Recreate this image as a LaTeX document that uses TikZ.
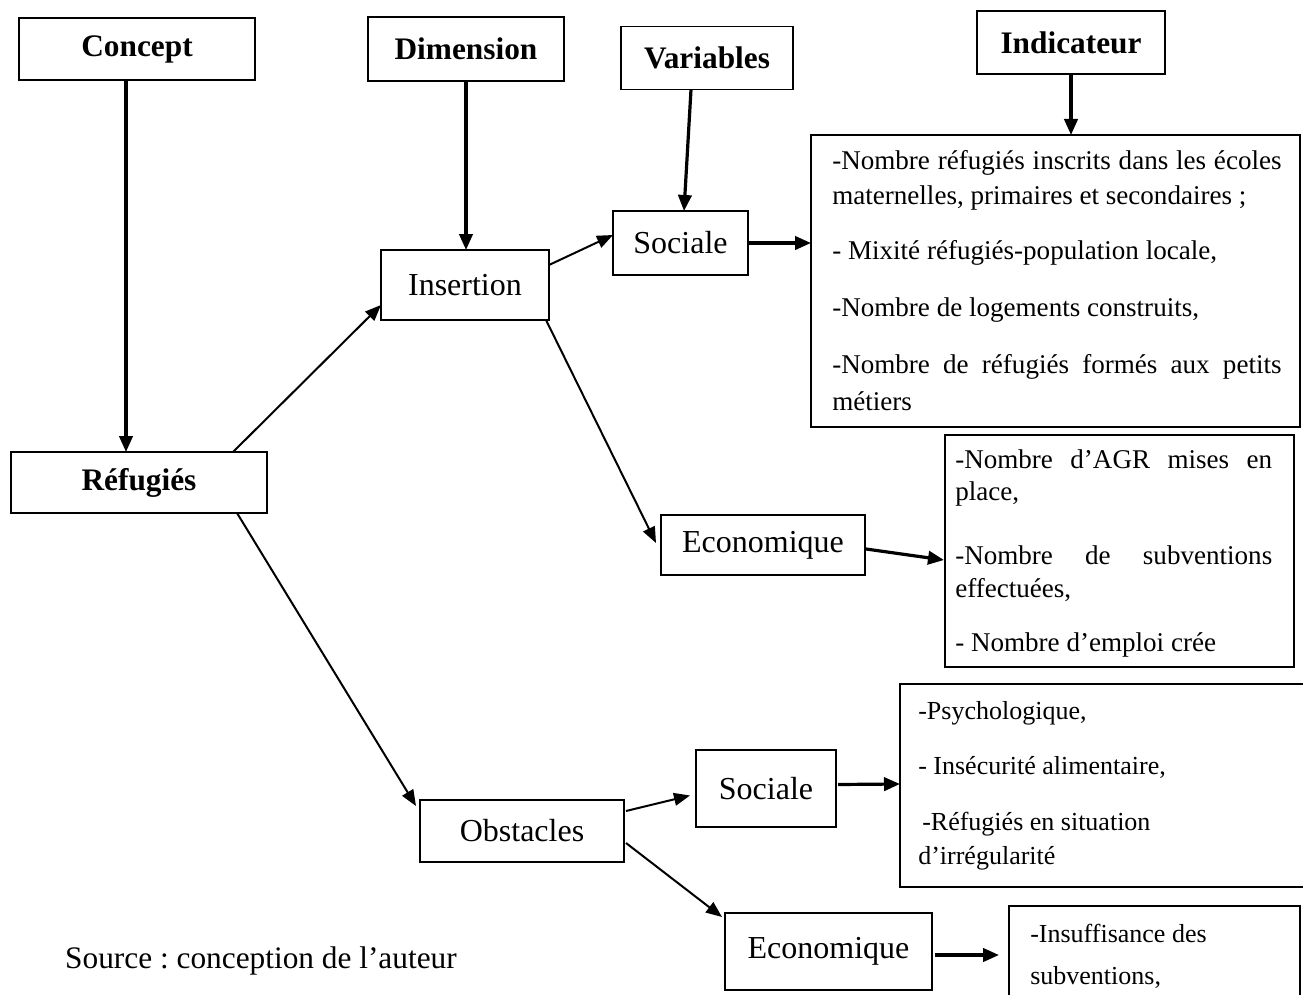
\documentclass[tikz,border=0pt]{standalone}
\usepackage{fontspec}
\setmainfont{Liberation Serif}
\usetikzlibrary{arrows.meta,calc}
\frenchspacing
\begin{document}
\begin{tikzpicture}[x=0.75pt,y=-0.75pt,
  bx/.style 2 args={draw, line width=0.8pt, minimum width=#1*0.75pt, minimum height=#2*0.75pt, inner sep=0pt, outer sep=0pt},
  hd/.style={font=\fontsize{23.5}{28}\selectfont\bfseries},
  lb/.style={font=\fontsize{24}{28}\selectfont},
  tx/.style={anchor=west, inner sep=0pt, font=\fontsize{20.3}{24}\selectfont},
  txb/.style={anchor=west, inner sep=0pt, font=\fontsize{19.5}{23}\selectfont},
  thk/.style={line width=2.4pt, -{Triangle[length=12pt,width=10pt]}},
  thn/.style={line width=1.5pt, -{Triangle[length=12pt,width=9.5pt]}},
]
\useasboundingbox (0,0) rectangle (1303,995);

% boxes
\node[bx={236}{62}, hd] (concept) at (137,49) {Concept};
\node[bx={196}{64}, hd] (dimension) at (466,49) {Dimension};
\node[bx={172}{63}, hd] (variables) at (707,58) {Variables};
\node[bx={188}{63}, hd] (indicateur) at (1071,42.5) {Indicateur};
\node[bx={489}{292}] (ind1) at (1055.5,281) {};
\node[bx={135}{64}, lb] (soc1) at (680.5,243) {Sociale};
\node[bx={168}{70}, lb] (insertion) at (465,285) {Insertion};
\node[bx={256}{61}, hd] (refugies) at (139,482.5) {Réfugiés};
\node[bx={204}{60}, lb] (eco1) at (763,545) {Economique};
\node[bx={349}{232}] (ind2) at (1119.5,551) {};
\node[bx={204}{62}, lb] (obstacles) at (522,831) {Obstacles};
\node[bx={140}{77}, lb] (soc2) at (766,788.5) {Sociale};
\node[bx={410}{203}] (ind3) at (1105,785.5) {};
\node[bx={207}{77}, lb] (eco2) at (828.5,951.5) {Economique};
\node[bx={291}{110}] (ind4) at (1154.5,961) {};

% indicator texts
\node[tx] (i1a) at (832,163) {\makebox[337pt][s]{-Nombre réfugiés inscrits dans les écoles}};
\node[tx] (i1b) at (832,198) {maternelles, primaires et secondaires ;};
\node[tx] (i1c) at (832,253) {- Mixité réfugiés-population locale,};
\node[tx] (i1d) at (832,310) {-Nombre de logements construits,};
\node[tx] (i1e) at (832,367) {\makebox[337pt][s]{-Nombre de réfugiés formés aux petits}};
\node[tx] (i1f) at (832,401) {métiers};

\node[tx] (i2a) at (955,459) {\makebox[237.75pt][s]{-Nombre d’AGR mises en}};
\node[tx] (i2b) at (955,494) {place,};
\node[tx] (i2c) at (955,555) {\makebox[237.75pt][s]{-Nombre de subventions}};
\node[tx] (i2d) at (955,590) {effectuées,};
\node[tx] (i2e) at (955,645) {- Nombre d’emploi crée};

\node[txb] (i3a) at (918,713) {-Psychologique,};
\node[txb] (i3b) at (918,767) {- Insécurité alimentaire,};
\node[txb] (i3c) at (922,824) {-Réfugiés en situation};
\node[txb] (i3d) at (918,858) {d’irrégularité};

\node[txb] (i4a) at (1030,933) {-Insuffisance des};
\node[txb] (i4b) at (1030,977) {subventions,};

\node[anchor=base east, inner sep=0pt, font=\fontsize{23.5}{28}\selectfont] (source) at (457,968) {Source : conception de l’auteur};

% connectors
\draw[thk] ($(concept.south)+(-11,0)$) -- ($(refugies.north)+(-13,0)$);
\draw[thk] (dimension.south) -- (dimension.south |- insertion.north);
\draw[thk] ($(variables.south)+(-16,0)$) -- ($(soc1.north)+(3.5,0)$);
\draw[thk] (indicateur.south) -- (indicateur.south |- ind1.north);
\draw[thn] ($(refugies.north)+(94,0)$) -- ($(insertion.west)+(0,20)$);
\draw[thn] ($(insertion.east)+(0,-20)$) -- ($(soc1.west)+(0,-8)$);
\draw[thn] ($(insertion.south east)+(-3,0)$) -- ($(eco1.west)+(-5,-2)$);
\draw[thk] (soc1.east) -- (soc1.east -| ind1.west);
\draw[thk] ($(eco1.east)+(1,4)$) -- ($(ind2.west)+(-1,9)$);
\draw[thn] ($(refugies.south)+(98,0)$) -- ($(obstacles.north west)+(-4,6)$);
\draw[thn] ($(obstacles.east)+(2,-20)$) -- ($(soc2.west)+(-6,7)$);
\draw[thk] ($(soc2.east)+(2,-4)$) -- ($(ind3.west)+(0,-1.5)$);
\draw[thn] ($(obstacles.east)+(2,12)$) -- ($(eco2.north west)+(-3,4)$);
\draw[thk] ($(eco2.east)+(3,3.5)$) -- ($(ind4.west)+(-10,-6)$);
\end{tikzpicture}
\end{document}
